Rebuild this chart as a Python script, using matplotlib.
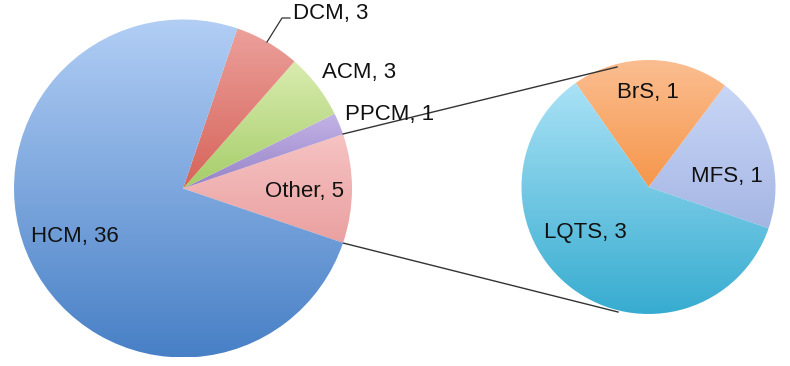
import numpy as np
import matplotlib
matplotlib.use('Agg')
import matplotlib.pyplot as plt
from matplotlib.colors import LinearSegmentedColormap

# Main pie (counter-clockwise from the right-hand "Other" slice)
main_labels = ['Other', 'PPCM', 'ACM', 'DCM', 'HCM']
main_values = [5, 1, 3, 3, 36]
main_top = ['#f6c3c3', '#c3b4e6', '#daecb0', '#eca09b', '#b2cef5']
main_bottom = ['#eaa0a0', '#9682c8', '#a5cd69', '#d6645a', '#4880c6']

# Secondary pie: breakdown of "Other"
sub_labels = ['MFS', 'BrS', 'LQTS']
sub_values = [1, 1, 3]
sub_top = ['#c8d6f6', '#fbbe91', '#aae2f6']
sub_bottom = ['#a5b6e4', '#f6964b', '#37acd0']

W, H = 790, 366
plt.rcParams['font.family'] = ['Liberation Sans', 'DejaVu Sans']

fig = plt.figure(figsize=(W / 100, H / 100), dpi=100)
ax = fig.add_axes([0, 0, 1, 1])


def py(y):
    # pixel row -> data y (y axis points up)
    return H - y


def gradient_fill(wedge, top, bottom):
    wedge.set_facecolor('none')
    wedge.set_edgecolor('none')
    ext = wedge.get_path().get_extents()
    cmap = LinearSegmentedColormap.from_list('g', [bottom, top])
    grad = np.linspace(0, 1, 256).reshape(-1, 1)
    im = ax.imshow(grad, cmap=cmap, origin='lower', aspect='auto',
                   extent=[ext.x0, ext.x1, ext.y0, ext.y1], zorder=1,
                   interpolation='bilinear')
    im.set_clip_path(wedge)


main_c = (183, py(188.5))
main_r = 169
sub_c = (648.5, py(187))
sub_r = 127

wedges, _ = ax.pie(main_values, center=main_c, radius=main_r,
                   startangle=-18.75, counterclock=True, frame=True)
for w, t, b in zip(wedges, main_top, main_bottom):
    gradient_fill(w, t, b)

wedges2, _ = ax.pie(sub_values, center=sub_c, radius=sub_r,
                    startangle=-19, counterclock=True, frame=True)
for w, t, b in zip(wedges2, sub_top, sub_bottom):
    gradient_fill(w, t, b)

# connector lines between the pies
ax.plot([343, 617], [py(134), py(67)], color='#333333', lw=1, zorder=3)
ax.plot([343, 618], [py(243), py(312)], color='#333333', lw=1, zorder=0.5)

# leader line for DCM
ax.plot([267, 282, 290], [py(42), py(18), py(18)], color='#333333', lw=0.9, zorder=3)

fs = 16
labels_txt = [
    ('DCM, 3', 293, 19),
    ('ACM, 3', 322, 78),
    ('PPCM, 1', 345, 120),
    ('Other, 5', 265, 197),
    ('HCM, 36', 31, 242),
    ('BrS, 1', 617, 98),
    ('MFS, 1', 691, 182),
    ('LQTS, 3', 544, 238),
]
for s, x, y in labels_txt:
    ax.text(x, py(y), s, fontsize=fs, color='#111111', ha='left',
            va='baseline', zorder=4)

ax.set_xlim(0, W)
ax.set_ylim(0, H)
ax.set_aspect('auto')
ax.axis('off')

fig.savefig('out.png', dpi=100)
